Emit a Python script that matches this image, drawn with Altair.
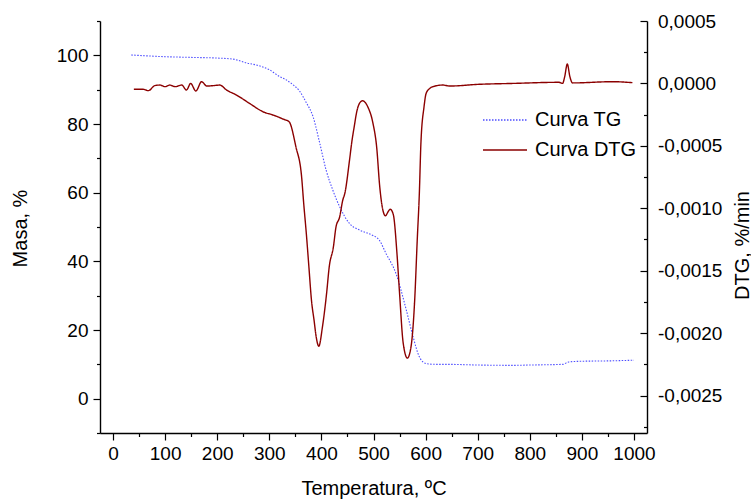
import altair as alt
import pandas as pd

# TG curve (left axis, mass %)
tg_temp = [35, 100, 150, 200, 230, 256, 282, 300, 320, 333, 345, 358, 370, 384, 397, 409, 422, 435,
           454, 473, 498, 511, 524, 543, 563, 576, 588, 601, 620, 640, 700, 767, 800, 863, 875, 900, 950, 1000]
tg_mass = [100.1, 99.6, 99.4, 99.2, 98.9, 97.8, 96.9, 95.8, 93.8, 92.8, 91.5, 89.6, 86.5, 82.1, 74.3, 66.6, 60.7, 55.9,
           51.0, 49.1, 47.6, 46.2, 42.3, 36.5, 25.8, 18.0, 12.2, 10.2, 10.0, 10.0, 9.8, 9.7, 9.8, 10.0, 10.7, 10.9, 11.0, 11.2]

# DTG curve (right axis, %/min)
dtg_temp = [40, 58, 68, 80, 90, 100, 109, 119, 132, 141, 149, 159, 170, 180, 192, 205, 218, 237, 262, 288,
            307, 319, 326, 338, 351, 362, 366, 371, 376, 381, 386, 390, 395, 402, 410, 415, 423, 428, 435,
            441, 445, 454, 458, 464, 466, 473, 479, 489, 499, 506, 512, 518, 523, 528, 532, 538, 545, 550,
            557, 565, 572, 579, 584, 588, 591, 597, 601, 608, 614, 633, 646, 703, 767, 856, 863, 867, 872,
            877, 882, 959, 997]
dtg_val = [-0.000047, -0.000047, -0.000058, -0.000018, -0.000013, -0.000026, -0.000013, -0.000026, -0.000013,
           -0.000053, 0.000000, -0.000061, 0.000014, -0.000021, -0.000018, -0.000013, -0.000053, -0.000093,
           -0.000160, -0.000227, -0.000253, -0.000272, -0.000285, -0.000307, -0.000507, -0.000748, -0.000960,
           -0.001200, -0.001470, -0.001740, -0.001900, -0.002030, -0.002105, -0.001950, -0.001680, -0.001470,
           -0.001310, -0.001150, -0.001070, -0.000935, -0.000880, -0.000614, -0.000480, -0.000320, -0.000267,
           -0.000160, -0.000139, -0.000187, -0.000320, -0.000507, -0.000828, -0.001015, -0.001060, -0.001028,
           -0.001007, -0.001050, -0.001360, -0.001680, -0.002080, -0.002200, -0.002110, -0.001740, -0.001250,
           -0.000880, -0.000480, -0.000187, -0.000080, -0.000040, -0.000026, -0.000013, -0.000021, -0.000007,
           0.000000, 0.000009, 0.000000, 0.000054, 0.000155, 0.000054, 0.000004, 0.000014, 0.000006]

series_names = ["Curva TG", "Curva DTG"]
series_colors = ["#4d4dff", "#8b0000"]
series_dash = [[1.5, 1.5], [1, 0]]

x_ticks = list(range(0, 1001, 50))
left_ticks = list(range(-10, 111, 10))
right_ticks = [-0.00275, -0.0025, -0.00225, -0.002, -0.00175, -0.0015, -0.00125, -0.001,
               -0.00075, -0.0005, -0.00025, 0.0, 0.00025, 0.0005]

tg_df = pd.DataFrame({"T": tg_temp, "v": tg_mass, "serie": series_names[0]})
dtg_df = pd.DataFrame({"T": dtg_temp, "v": dtg_val, "serie": series_names[1]})

W, H = 547, 412
FONT = "Liberation Sans"
FS = 19
TFS = 20

common_axis = dict(
    grid=False, domainColor="black", domainWidth=1.4, tickColor="black", tickWidth=1.2,
    labelFont=FONT, labelFontSize=FS, labelColor="black", titleFont=FONT, titleFontSize=TFS,
    titleFontWeight="normal", titleColor="black", labelOverlap=False, labelFlush=False,
)

x_enc = alt.X(
    "T:Q",
    scale=alt.Scale(domain=[-25, 1025], nice=False, zero=False),
    axis=alt.Axis(
        values=x_ticks, format="d",
        labelExpr="datum.value % 100 === 0 ? datum.label : ''",
        tickSize={"condition": {"test": "datum.value % 100 === 0", "value": 7}, "value": 3.5},
        labelPadding=4, title="Temperatura, ºC", titleY=55, titleBaseline="middle",
        **common_axis,
    ),
)

legend_props = dict(orient="none", legendX=382, legendY=84, title=None,
                    labelFont=FONT, labelFontSize=20, labelColor="black",
                    symbolType="stroke", symbolSize=1936, symbolStrokeWidth=1.3,
                    labelOffset=7, rowPadding=0, clipHeight=30, padding=0)

color_enc = alt.Color("serie:N", scale=alt.Scale(domain=series_names, range=series_colors),
                      legend=alt.Legend(**legend_props))
dash_enc = alt.StrokeDash("serie:N", scale=alt.Scale(domain=series_names, range=series_dash),
                          legend=alt.Legend(**legend_props))

tg_layer = alt.Chart(tg_df).mark_line(strokeWidth=1.1, interpolate="monotone").encode(
    x=x_enc,
    y=alt.Y("v:Q",
            scale=alt.Scale(domain=[-10, 110], nice=False, zero=False),
            axis=alt.Axis(
                values=left_ticks, format="d",
                labelExpr="datum.value % 20 === 0 ? datum.label : ''",
                tickSize={"condition": {"test": "datum.value % 20 === 0", "value": 7}, "value": 3.5},
                labelPadding=5, title="Masa, %", titleX=-80, titleY=207, titleAngle=270,
                titleBaseline="middle", titleAlign="center",
                **common_axis,
            )),
    color=color_enc,
    strokeDash=dash_enc,
)

major_r = "abs(datum.value*2000 - round(datum.value*2000)) < 1e-6"
dtg_layer = alt.Chart(dtg_df).mark_line(strokeWidth=1.4, interpolate="monotone").encode(
    x=x_enc,
    y=alt.Y("v:Q",
            scale=alt.Scale(domain=[-0.0028, 0.0005], nice=False, zero=False),
            axis=alt.Axis(
                orient="left", offset=-W,
                values=right_ticks,
                labelExpr=major_r + " ? replace(replace(format(datum.value, '.4f'), '.', ','), '\u2212', '-') : ''",
                tickSize={"condition": {"test": major_r, "value": 7}, "value": 3.5},
                labelAlign="left", labelPadding=-17.5,
                title="DTG, %/min", titleX=95, titleY=224, titleAngle=270,
                titleBaseline="middle", titleAlign="center",
                **common_axis,
            )),
    color=color_enc,
    strokeDash=dash_enc,
)

chart = alt.layer(tg_layer, dtg_layer).resolve_scale(y="independent").properties(
    width=W, height=H,
    autosize=alt.AutoSizeParams(type="none"),
    padding={"left": 100, "top": 21, "right": 104, "bottom": 66},
    background="white",
).configure_view(stroke="transparent")

chart.save("out.html", embed_options={"renderer": "svg", "actions": False})
